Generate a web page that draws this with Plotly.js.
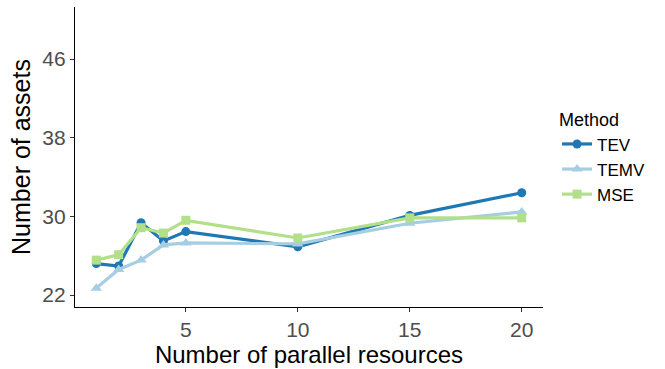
<!DOCTYPE html>
<html><head><meta charset="utf-8">
<script src="https://cdn.plot.ly/plotly-3.0.1.min.js"></script>
<style>body{margin:0;background:#fff}#c{width:665px;height:369px}</style>
</head><body><div id="c"></div>
<script>
const resources = [1, 2, 3, 4, 5, 10, 15, 20];
const tev  = [25.2, 24.95, 29.35, 27.5, 28.45, 26.9, 30.1, 32.4];
const temv = [22.7, 24.6, 25.55, 27.1, 27.3, 27.2, 29.3, 30.45];
const mse  = [25.55, 26.1, 28.85, 28.3, 29.6, 27.8, 29.85, 29.85];
const yTicks = [22, 30, 38, 46];
const xTicks = [5, 10, 15, 20];

const mk = (name, y, color, symbol, size) => ({
  x: resources, y: y, name: name, type: 'scatter', mode: 'lines+markers',
  line: {color: color, width: 3.2},
  marker: {color: color, symbol: symbol, size: size}
});
const data = [
  mk('TEV', tev, '#1f78b4', 'circle', 9),
  mk('TEMV', temv, '#a6cee3', 'triangle-up', 10),
  mk('MSE', mse, '#b2df8a', 'square', 9)
];
const axFont = {family: 'Liberation Sans, Arial, sans-serif', size: 21, color: '#4d4d4d'};
const layout = {
  width: 665, height: 369,
  margin: {l: 75, r: 122, t: 7, b: 62},
  paper_bgcolor: '#fff', plot_bgcolor: '#fff',
  font: {family: 'Liberation Sans, Arial, sans-serif', color: '#000'},
  xaxis: {
    range: [0.05, 20.95], tickvals: xTicks, ticktext: xTicks.map(String),
    showgrid: false, zeroline: false, showline: true, linecolor: '#000', linewidth: 1.2,
    ticks: 'outside', ticklen: 4, tickcolor: '#333', tickfont: axFont,
    title: {text: 'Number of parallel resources', font: {size: 24, color: '#000'}, standoff: 1}
  },
  yaxis: {
    range: [20.78, 51.3], tickvals: yTicks, ticktext: yTicks.map(String),
    showgrid: false, zeroline: false, showline: true, linecolor: '#000', linewidth: 1.2,
    ticks: 'outside', ticklen: 4, tickcolor: '#333', tickfont: axFont,
    title: {text: 'Number of assets', font: {size: 25, color: '#000'}, standoff: 4}
  },
  legend: {
    x: 1.03, xanchor: 'left', y: 0.68, yanchor: 'top',
    title: {text: 'Method', font: {size: 18}},
    font: {size: 17}, tracegroupgap: 0, itemwidth: 30
  },
  showlegend: true
};
Plotly.newPlot('c', data, layout, {displayModeBar: false, staticPlot: true});
</script></body></html>
